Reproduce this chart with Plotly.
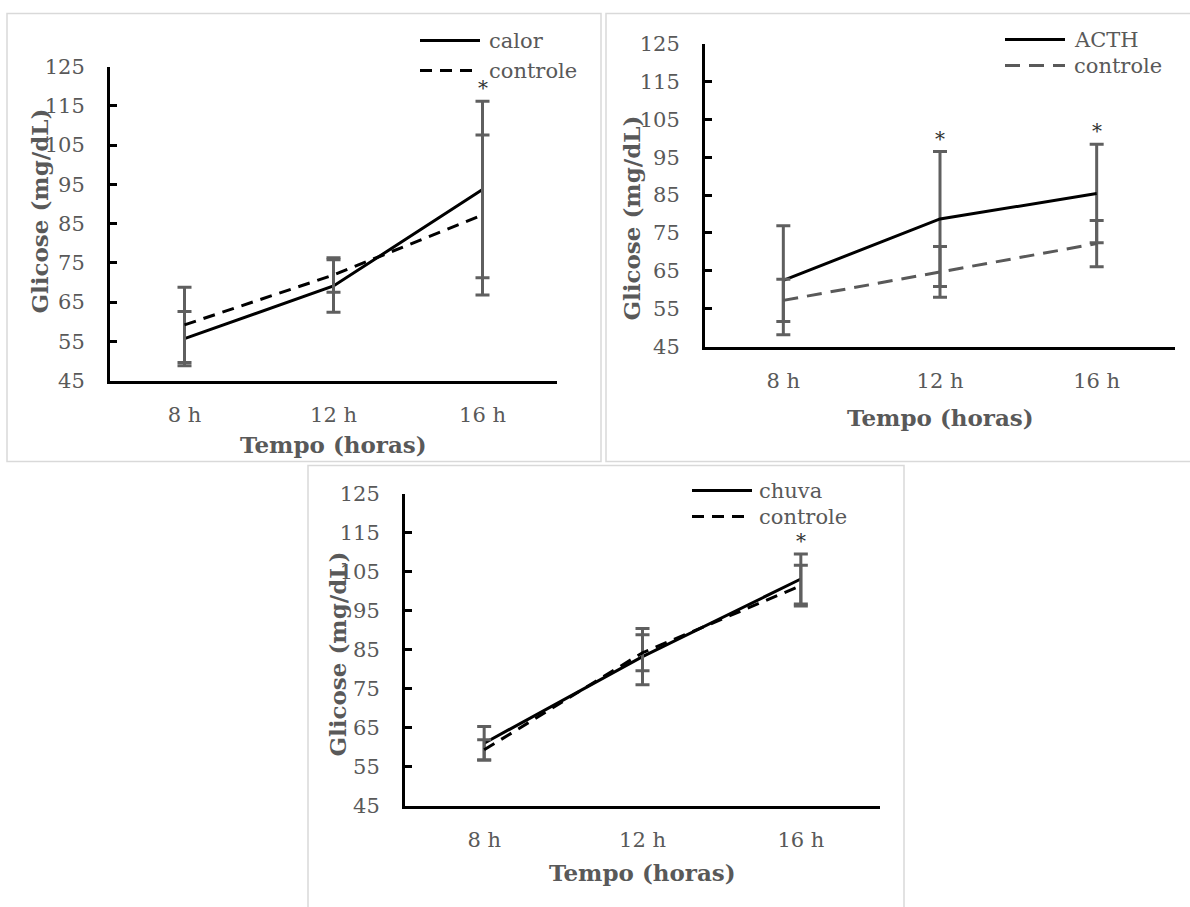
import plotly.graph_objects as go

W, H = 1190, 907

categorias = ["8 h", "12 h", "16 h"]
ticks_y = [45, 55, 65, 75, 85, 95, 105, 115, 125]

# Painel 1: calor x controle
calor = [55.7, 69.1, 93.7]
calor_dp = [6.9, 6.7, 22.5]
controle1 = [59.2, 71.9, 87.2]
controle1_dp = [9.6, 4.4, 20.4]
asteriscos1 = [2]

# Painel 2: ACTH x controle
acth = [62.5, 78.7, 85.4]
acth_dp = [14.4, 17.8, 13.0]
controle2 = [57.2, 64.7, 72.2]
controle2_dp = [5.6, 6.7, 6.1]
asteriscos2 = [1, 2]

# Painel 3: chuva x controle
chuva = [61.0, 83.2, 103.1]
chuva_dp = [4.3, 7.2, 6.4]
controle3 = [59.3, 84.2, 101.4]
controle3_dp = [2.6, 4.6, 5.2]
asteriscos3 = [2]

TXT = "#595959"
ERR = "#5f5f5f"
FONT = "DejaVu Serif"

# vertical mapping of the rendered page (top offset / usable height)
TOP, USE_H = 12.4, 883.0


def px_x(p):
    return p / W


def px_y(p):
    return 1 - (p - TOP) / USE_H


# panel pixel geometry (plot area): x0, x1, ytop, ybottom
paineis = [
    dict(x0=110, x1=557, yt=67, yb=381, ytit_x=40, ytit_y=212, xtit_x=333, xtit_y=445,
         leg=(420, 480, 487, 41, 71), frame=(7, 14, 601, 462)),
    dict(x0=705, x1=1175, yt=44, yb=347, ytit_x=632, ytit_y=219, xtit_x=940, xtit_y=418,
         leg=(1005, 1065, 1072, 40, 66), frame=(606, 14, 1196, 462)),
    dict(x0=405, x1=880, yt=494, yb=806, ytit_x=338, ytit_y=655, xtit_x=642, xtit_y=873,
         leg=(692, 752, 757, 491, 517), frame=(308, 466, 904, 930)),
]

series = [
    ("calor", calor, calor_dp, "controle", controle1, controle1_dp, "black", "12px,8px", asteriscos1),
    ("ACTH", acth, acth_dp, "controle", controle2, controle2_dp, "#595959", "15px,9px", asteriscos2),
    ("chuva", chuva, chuva_dp, "controle", controle3, controle3_dp, "black", "12px,8px", asteriscos3),
]

fig = go.Figure()
annotations = []
shapes = []

for i, (p, s) in enumerate(zip(paineis, series)):
    n = "" if i == 0 else str(i + 1)
    xa, ya = "x" + n, "y" + n
    nome1, v1, e1, nome2, v2, e2, cor2, dash2, ast = s
    fig.add_trace(go.Scatter(
        x=categorias, y=v1, name=nome1, mode="lines", xaxis=xa, yaxis=ya, showlegend=False,
        line=dict(color="black", width=3),
        error_y=dict(type="data", array=e1, visible=True, color=ERR, thickness=3, width=7),
    ))
    fig.add_trace(go.Scatter(
        x=categorias, y=v2, name=nome2, mode="lines", xaxis=xa, yaxis=ya, showlegend=False,
        line=dict(color=cor2, width=3, dash=dash2),
        error_y=dict(type="data", array=e2, visible=True, color=ERR, thickness=3, width=7),
    ))
    axx = dict(
        domain=[px_x(p["x0"]), px_x(p["x1"])], anchor=ya, type="category",
        range=[-0.5, 2.5], showline=True, linecolor="black", linewidth=3,
        ticks="", showgrid=False, zeroline=False, ticklabelstandoff=13,
        tickfont=dict(family=FONT, size=21, color=TXT),
    )
    axy = dict(
        domain=[px_y(p["yb"]), px_y(p["yt"])], anchor=xa, range=[45, 125],
        tickmode="array", tickvals=ticks_y, showline=True, linecolor="black", linewidth=3,
        ticks="inside", ticklen=7, tickwidth=3, tickcolor="black", showgrid=False,
        zeroline=False, ticklabelstandoff=18,
        tickfont=dict(family=FONT, size=21, color=TXT),
    )
    fig.update_layout(**{"xaxis" + n: axx, "yaxis" + n: axy})

    # legend (line samples + labels)
    lx0, lx1, tx, ly1, ly2 = p["leg"]
    shapes.append(dict(type="line", xref="paper", yref="paper",
                       x0=px_x(lx0), x1=px_x(lx1), y0=px_y(ly1), y1=px_y(ly1),
                       line=dict(color="black", width=3)))
    shapes.append(dict(type="line", xref="paper", yref="paper",
                       x0=px_x(lx0), x1=px_x(lx1), y0=px_y(ly2), y1=px_y(ly2),
                       line=dict(color=cor2, width=3, dash=dash2)))
    for nome, ly in ((nome1, ly1), (nome2, ly2)):
        annotations.append(dict(
            text=nome, xref="paper", yref="paper", x=px_x(tx), y=px_y(ly),
            xanchor="left", yanchor="middle", showarrow=False,
            font=dict(family=FONT, size=21, color=TXT),
        ))

    # axis titles
    annotations.append(dict(
        text="<b>Glicose (mg/dL)</b>", xref="paper", yref="paper",
        x=px_x(p["ytit_x"]), y=px_y(p["ytit_y"]), textangle=-90, showarrow=False,
        xanchor="center", yanchor="middle", font=dict(family=FONT, size=23, color=TXT),
    ))
    annotations.append(dict(
        text="<b>Tempo (horas)</b>", xref="paper", yref="paper",
        x=px_x(p["xtit_x"]), y=px_y(p["xtit_y"]), showarrow=False,
        xanchor="center", yanchor="middle", font=dict(family=FONT, size=23, color=TXT),
    ))
    # asterisks
    for k in ast:
        topo = max(v1[k] + e1[k], v2[k] + e2[k])
        annotations.append(dict(
            text="*", xref=xa, yref=ya, x=categorias[k], y=topo, showarrow=False,
            yanchor="middle", yshift=13, font=dict(family=FONT, size=20, color="#333333"),
        ))
    fx0, fy0, fx1, fy1 = p["frame"]
    shapes.append(dict(
        type="rect", xref="paper", yref="paper",
        x0=px_x(fx0), x1=px_x(fx1), y0=px_y(fy1), y1=px_y(fy0),
        line=dict(color="#d9d9d9", width=1.5), fillcolor="rgba(0,0,0,0)", layer="below",
    ))

fig.update_layout(
    width=W, height=H, margin=dict(l=0, r=0, t=0, b=0),
    paper_bgcolor="white", plot_bgcolor="white",
    annotations=annotations, shapes=shapes,
)

fig.write_html("out.html")
